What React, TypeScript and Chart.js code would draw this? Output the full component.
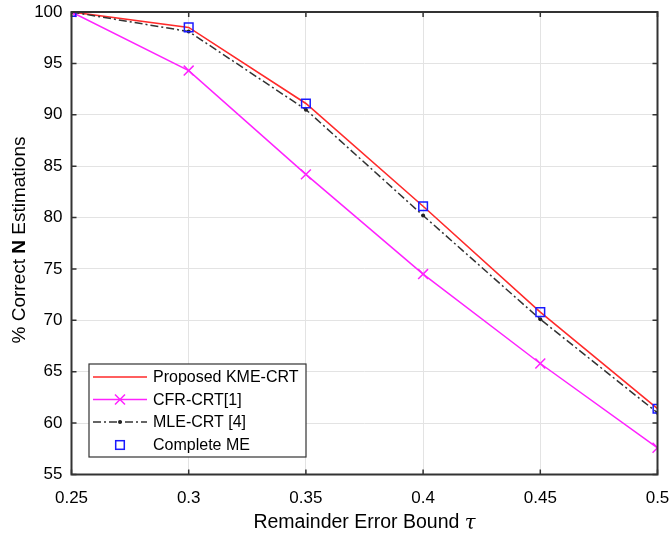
import React, { useEffect, useRef } from "react";
import { Chart, registerables } from "chart.js";

Chart.register(...registerables);

const xValues = [0.25, 0.3, 0.35, 0.4, 0.45, 0.5];
const proposedKME = [100, 98.5, 91.1, 81.1, 70.8, 61.4];
const cfrCRT = [100, 94.3, 84.2, 74.5, 65.8, 57.6];
const mleCRT = [100, 98.1, 90.5, 80.2, 70.1, 61.0];
const completeME = [100, 98.5, 91.1, 81.1, 70.8, 61.4];
const seriesLabels = ["Proposed KME-CRT", "CFR-CRT[1]", "MLE-CRT [4]", "Complete ME"];
const yTitleParts = ["% Correct ", "N", " Estimations"];
const xTitleMain = "Remainder Error Bound ";
const xTitleSymbol = "τ";

const FONT = "'Liberation Sans', Arial, sans-serif";

const framePlugin = {
  id: "frame",
  afterDraw(chart: any) {
    const { ctx, chartArea: a, scales } = chart;
    const xs = scales.x, ys = scales.y;
    ctx.save();
    ctx.strokeStyle = "#333333";
    ctx.lineWidth = 1.5;
    const tl = 5;
    ctx.beginPath();
    for (const v of xValues) {
      const px = xs.getPixelForValue(v);
      ctx.moveTo(px, a.bottom);
      ctx.lineTo(px, a.bottom - tl);
      ctx.moveTo(px, a.top);
      ctx.lineTo(px, a.top + tl);
    }
    for (let v = 55; v <= 100; v += 5) {
      const py = ys.getPixelForValue(v);
      ctx.moveTo(a.left, py);
      ctx.lineTo(a.left + tl, py);
      ctx.moveTo(a.right, py);
      ctx.lineTo(a.right - tl, py);
    }
    ctx.stroke();
    ctx.lineWidth = 2;
    ctx.strokeRect(a.left, a.top, a.right - a.left, a.bottom - a.top);

    // x title
    ctx.fillStyle = "#000";
    ctx.textBaseline = "middle";
    const tf = `19.5px ${FONT}`;
    const sf = `italic 19.5px 'DejaVu Serif', serif`;
    ctx.font = tf;
    const w1 = ctx.measureText(xTitleMain).width;
    ctx.font = sf;
    const w2 = ctx.measureText(xTitleSymbol).width;
    const cx = (a.left + a.right) / 2;
    const sx = cx - (w1 + w2) / 2;
    ctx.font = tf;
    ctx.textAlign = "left";
    ctx.fillText(xTitleMain, sx, 523);
    ctx.font = sf;
    ctx.fillText(xTitleSymbol, sx + w1, 524);

    // y title
    ctx.save();
    ctx.translate(20, 240);
    ctx.rotate(-Math.PI / 2);
    const fonts = [`19px ${FONT}`, `bold 19px ${FONT}`, `19px ${FONT}`];
    let total = 0;
    const widths: number[] = [];
    yTitleParts.forEach((p, i) => {
      ctx.font = fonts[i];
      const w = ctx.measureText(p).width;
      widths.push(w);
      total += w;
    });
    let px = -total / 2;
    yTitleParts.forEach((p, i) => {
      ctx.font = fonts[i];
      ctx.fillText(p, px, 0);
      px += widths[i];
    });
    ctx.restore();

    // legend
    const lx = 89, ly = 364, lw = 217, lh = 93;
    ctx.fillStyle = "#fff";
    ctx.fillRect(lx, ly, lw, lh);
    ctx.strokeStyle = "#333";
    ctx.lineWidth = 1.2;
    ctx.strokeRect(lx, ly, lw, lh);
    const rows = [377, 399.5, 422, 445];
    const l0 = 93, l1 = 147, mx = 120;
    ctx.font = `16px ${FONT}`;
    ctx.textBaseline = "middle";
    ctx.textAlign = "left";
    ctx.strokeStyle = "#ff2a2a";
    ctx.lineWidth = 1.5;
    ctx.beginPath(); ctx.moveTo(l0, rows[0]); ctx.lineTo(l1, rows[0]); ctx.stroke();
    ctx.strokeStyle = "#ff22ff";
    ctx.beginPath(); ctx.moveTo(l0, rows[1]); ctx.lineTo(l1, rows[1]); ctx.stroke();
    ctx.beginPath();
    ctx.moveTo(mx - 5, rows[1] - 5); ctx.lineTo(mx + 5, rows[1] + 5);
    ctx.moveTo(mx + 5, rows[1] - 5); ctx.lineTo(mx - 5, rows[1] + 5);
    ctx.stroke();
    ctx.strokeStyle = "#333";
    ctx.setLineDash([8, 3, 2, 3]);
    ctx.beginPath(); ctx.moveTo(l0, rows[2]); ctx.lineTo(l1, rows[2]); ctx.stroke();
    ctx.setLineDash([]);
    ctx.fillStyle = "#222";
    ctx.beginPath(); ctx.arc(mx, rows[2], 2, 0, Math.PI * 2); ctx.fill();
    ctx.strokeStyle = "#1a1aff";
    ctx.lineWidth = 1.5;
    ctx.strokeRect(mx - 4.3, rows[3] - 4.3, 8.6, 8.6);
    ctx.fillStyle = "#000";
    seriesLabels.forEach((t, i) => ctx.fillText(t, 153, rows[i] + 1));
    ctx.restore();
  },
};

export default function App() {
  const ref = useRef<HTMLCanvasElement>(null);
  useEffect(() => {
    const chart = new Chart(ref.current!, {
      type: "line",
      data: {
        datasets: [
          {
            label: seriesLabels[3],
            data: xValues.map((x, i) => ({ x, y: completeME[i] })),
            showLine: false,
            pointStyle: "rect",
            pointRadius: 6.1,
            pointBorderWidth: 1.5,
            pointBorderColor: "#1a1aff",
            pointBackgroundColor: "rgba(0,0,0,0)",
            borderColor: "#1a1aff",
            order: 0,
          },
          {
            label: seriesLabels[2],
            data: xValues.map((x, i) => ({ x, y: mleCRT[i] })),
            borderColor: "#333333",
            borderWidth: 1.5,
            borderDash: [8, 3, 2, 3],
            pointStyle: "circle",
            pointRadius: 2,
            pointBackgroundColor: "#222",
            pointBorderWidth: 0,
            tension: 0,
            order: 1,
          },
          {
            label: seriesLabels[0],
            data: xValues.map((x, i) => ({ x, y: proposedKME[i] })),
            borderColor: "#ff2a2a",
            borderWidth: 1.6,
            pointRadius: 0,
            tension: 0,
            order: 2,
          },
          {
            label: seriesLabels[1],
            data: xValues.map((x, i) => ({ x, y: cfrCRT[i] })),
            borderColor: "#ff22ff",
            borderWidth: 1.5,
            pointStyle: "crossRot",
            pointRadius: 7,
            pointBorderWidth: 1.5,
            pointBorderColor: "#ff22ff",
            tension: 0,
            order: 3,
          },
        ],
      },
      options: {
        animation: false,
        responsive: false,
        maintainAspectRatio: false,
        layout: { padding: { top: 12, right: 14.5, left: 0, bottom: 0 } },
        plugins: { legend: { display: false }, tooltip: { enabled: false } },
        scales: {
          x: {
            type: "linear",
            min: 0.25,
            max: 0.5,
            afterFit: (s: any) => {
              s.height = 62.5;
              s.paddingLeft = 0;
              s.paddingRight = 0;
            },
            afterBuildTicks: (s: any) => { s.ticks = xValues.map((v) => ({ value: v })); },
            ticks: {
              color: "#000",
              font: { family: FONT, size: 17 },
              padding: 14,
              maxRotation: 0,
              callback: (v: any) => String(Number(Number(v).toFixed(2))),
            },
            grid: { color: "#e3e3e3", lineWidth: 1, drawTicks: false },
            border: { display: false },
          },
          y: {
            min: 55,
            max: 100,
            afterFit: (s: any) => {
              s.width = 71.5;
              s.paddingTop = 0;
              s.paddingBottom = 0;
            },
            ticks: {
              stepSize: 5,
              color: "#000",
              font: { family: FONT, size: 17 },
              padding: 9,
            },
            grid: { color: "#e3e3e3", lineWidth: 1, drawTicks: false },
            border: { display: false },
          },
        },
      },
      plugins: [framePlugin],
    });
    return () => chart.destroy();
  }, []);
  return (
    <div style={{ position: "fixed", left: 0, top: 0, width: 672, height: 537, background: "#fff" }}>
      <canvas ref={ref} width={672} height={537} style={{ width: 672, height: 537 }} />
    </div>
  );
}
